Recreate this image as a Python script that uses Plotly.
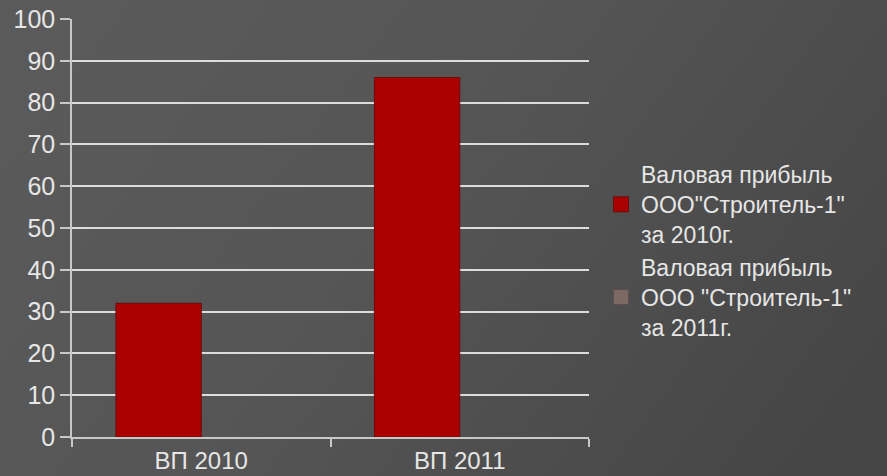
import base64
import plotly.graph_objects as go

categories = ["ВП 2010", "ВП 2011"]
series1_name = "Валовая прибыль<br>ООО\"Строитель-1\"<br>за 2010г."
series2_name = "Валовая прибыль<br>ООО \"Строитель-1\"<br>за 2011г."
series1_values = [32, 86]
series2_values = [0, 0]
y_ticks = [0, 10, 20, 30, 40, 50, 60, 70, 80, 90, 100]

RED = "#ab0000"
BROWN = "#7b6962"
TXT = "#e6e6e6"
FONT = "Liberation Sans, Arial, sans-serif"

W, H = 887, 476
L, R, T, B = 72, 298, 19, 39
pw, ph = W - L - R, H - T - B

svg = (
    '<svg xmlns="http://www.w3.org/2000/svg" width="887" height="476">'
    '<defs><linearGradient id="g" x1="0" y1="0.3" x2="1" y2="0.7">'
    '<stop offset="0" stop-color="#5a5a5a"/>'
    '<stop offset="0.45" stop-color="#555555"/>'
    '<stop offset="1" stop-color="#464646"/>'
    '</linearGradient></defs>'
    '<rect width="887" height="476" fill="url(#g)"/></svg>'
)
src = "data:image/svg+xml;base64," + base64.b64encode(svg.encode()).decode()

fig = go.Figure()
fig.add_trace(go.Bar(x=categories, y=series1_values, name=series1_name,
                     marker=dict(color=RED, line=dict(color="#6e0a0a", width=1)),
                     showlegend=False))
fig.add_trace(go.Bar(x=categories, y=series2_values, name=series2_name,
                     marker=dict(color=BROWN, line=dict(width=0)),
                     showlegend=False))
# legend proxies
fig.add_trace(go.Scatter(x=[None], y=[None], mode="markers", name=series1_name,
                         marker=dict(symbol="square", size=15, color=RED,
                                     line=dict(color="#6e0a0a", width=1))))
fig.add_trace(go.Scatter(x=[None], y=[None], mode="markers", name=series2_name,
                         marker=dict(symbol="square", size=15, color=BROWN,
                                     line=dict(color="#5e5050", width=1))))

fig.update_layout(
    width=W, height=H,
    margin=dict(l=L, r=R, t=T, b=B, pad=0, autoexpand=False),
    paper_bgcolor="#525252",
    plot_bgcolor="rgba(0,0,0,0)",
    barmode="group",
    bargap=0.34,
    bargroupgap=0,
    font=dict(family=FONT, color=TXT, size=24),
    images=[dict(source=src, xref="paper", yref="paper",
                 x=-L / pw, y=1 + T / ph, sizex=W / pw, sizey=H / ph,
                 xanchor="left", yanchor="top", sizing="stretch", layer="below")],
    legend=dict(xref="container", yref="container", x=601 / W, y=1 - 153 / H,
                xanchor="left", yanchor="top", bgcolor="rgba(0,0,0,0)",
                font=dict(size=23, color=TXT), itemwidth=30, tracegroupgap=0),
    showlegend=True,
)
fig.update_yaxes(range=[0, 100], tickvals=y_ticks, showgrid=True,
                 gridcolor="#dcdcdc", gridwidth=1.5, showline=True,
                 linecolor="#c8c8c8", linewidth=1.5, ticks="outside",
                 ticklen=10, tickcolor="#c8c8c8", tickwidth=1.5,
                 zeroline=False, automargin=False, tickfont=dict(size=25, color=TXT))
fig.update_xaxes(showline=True, linecolor="#c8c8c8", linewidth=1.5,
                 ticks="outside", tickson="boundaries", ticklen=8,
                 tickcolor="#c8c8c8", tickwidth=1.5, automargin=False,
                 ticklabelstandoff=1,
                 tickfont=dict(size=24, color=TXT))

fig.write_html("out.html", config={"displayModeBar": False},
               post_script="document.body.style.margin='0';document.body.style.overflow='hidden';")
